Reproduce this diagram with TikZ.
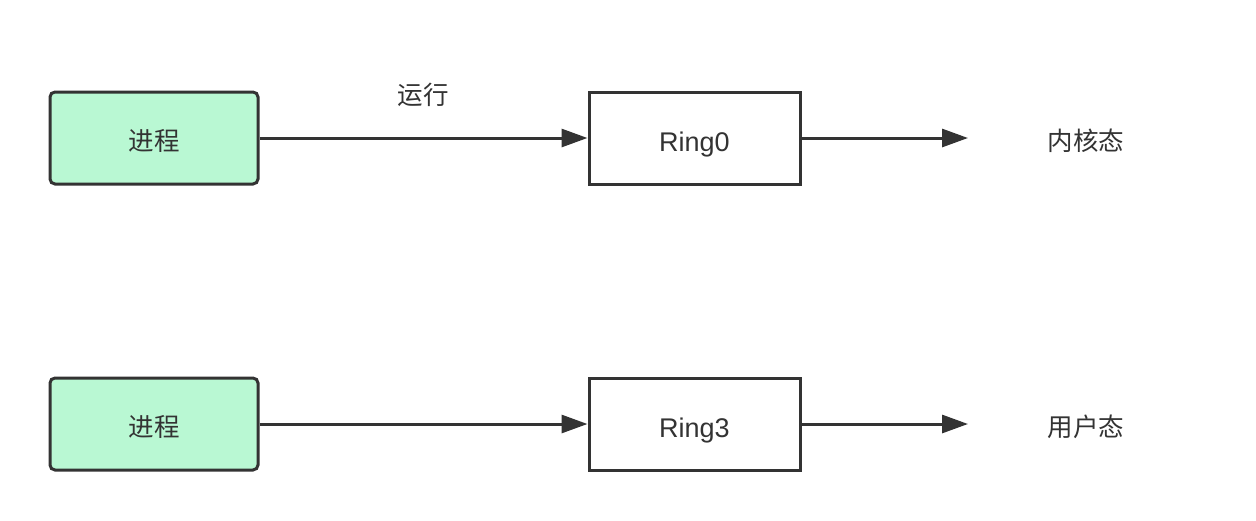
\documentclass[tikz,border=0pt]{standalone}
\usepackage{fontspec}
\setmainfont{Liberation Sans}
\newfontfamily\cjk{Noto Sans CJK SC}
\usetikzlibrary{arrows.meta}
\definecolor{ink}{HTML}{333333}
\definecolor{mint}{HTML}{B9F8D3}
\tikzset{
  procbox/.style={draw=ink, line width=3pt, fill=mint, rounded corners=5pt, minimum width=208pt, minimum height=92pt, inner sep=0pt},
  ringbox/.style={draw=ink, line width=3pt, fill=white, minimum width=211pt, minimum height=92pt, inner sep=0pt},
  lbl/.style={inner sep=0pt, font=\cjk\fontsize{25.5}{30}\selectfont, text=ink},
  rlbl/.style={inner sep=0pt, font=\fontsize{27}{32}\selectfont, text=ink},
  conn/.style={draw=ink, line width=3pt, -{Triangle[length=26pt, width=18pt]}}
}
\begin{document}
\begin{tikzpicture}[x=1pt, y=-1pt]
\useasboundingbox (0,0) rectangle (1256,520);
\node[procbox] (p1) at (154,138) {};
\node[lbl] (p1t) at (154,141) {进程};
\node[ringbox] (r0) at (694.5,138) {};
\node[rlbl] (r0t) at (694.5,145) {Ring0};
\coordinate (k0) at (968,138);
\node[lbl] (kt) at (1086,141) {内核态};
\node[lbl] (run) at (423,95) {运行};
\draw[conn] (p1.east) -- (r0.west);
\draw[conn] (r0.east) -- (k0);

\node[procbox] (p2) at (154,424) {};
\node[lbl] (p2t) at (154,427) {进程};
\node[ringbox] (r3) at (694.5,424) {};
\node[rlbl] (r3t) at (694.5,431) {Ring3};
\coordinate (k3) at (968,424);
\node[lbl] (ut) at (1086,427) {用户态};
\draw[conn] (p2.east) -- (r3.west);
\draw[conn] (r3.east) -- (k3);
\end{tikzpicture}
\end{document}
